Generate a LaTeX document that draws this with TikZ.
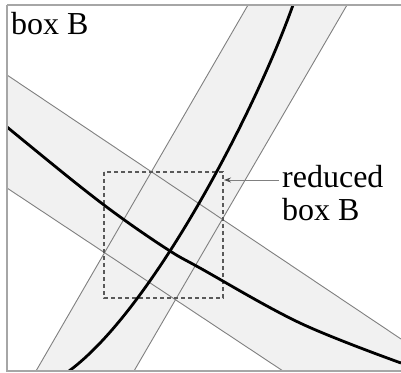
\documentclass[tikz,border=0pt]{standalone}
\usepackage{fontspec}
\setmainfont{Liberation Serif}
\usetikzlibrary{arrows.meta}
\definecolor{bandfill}{gray}{0.945}
\definecolor{edgegray}{gray}{0.5}
\definecolor{framegray}{gray}{0.65}
\definecolor{dashgray}{gray}{0.35}
\tikzset{
  bandedge/.style={draw=edgegray, line width=0.9pt},
  centercurve/.style={draw=black, line width=2.8pt},
  framebox/.style={draw=framegray, line width=1.3pt},
  reducedbox/.style={draw=dashgray, line width=1.2pt, dash pattern=on 4pt off 3pt},
  lbl/.style={inner sep=0pt, font=\fontsize{32}{35}\selectfont, anchor=base west},
  pointer/.style={draw=edgegray, line width=0.9pt, -{Stealth[length=7pt,width=5pt,black!70]}}
}
\begin{document}
\begin{tikzpicture}[x=1pt,y=-1pt]
\useasboundingbox (0,0) rectangle (401,372);
\fill[white] (0,0) rectangle (401,372);
\begin{scope}
\clip (7,5) rectangle (402,371);
% band 1 (steep)
\fill[bandfill] (36,371) -- (248,5) -- (347,5) -- (134,371) -- cycle;
% band 2 (shallow)
\fill[bandfill] (7,75) -- (401,339) -- (401,371) -- (283,371) -- (7,188) -- cycle;
\draw[bandedge] (36,371) -- (248,5);
\draw[bandedge] (134,371) -- (347,5);
\draw[bandedge] (7,75) -- (401,339);
\draw[bandedge] (7,188) -- (283,371);
% dashed reduced box
\draw[reducedbox] (104,172) rectangle (223,298);
% center curves
\draw[centercurve] (69,371) .. controls (152,310) and (255,112) .. (293,5);
\draw[centercurve] plot[smooth, tension=0.6] coordinates {(7,127) (77,184) (123,219) (170,251) (200,268) (300,323) (401,363)};
\end{scope}
\draw[framebox] (7,5) -- (402,5);
\draw[framebox] (7,5) -- (7,371) -- (402,371);
\node[lbl] (boxB) at (11,34) {box B};
\node[lbl] (red1) at (282,187) {reduced};
\node[lbl] (red2) at (282,220) {box B};
\coordinate (arrstart) at (279,180);
\coordinate (arrtip) at (224,180);
\draw[pointer] (arrstart) -- (arrtip);
\end{tikzpicture}
\end{document}
